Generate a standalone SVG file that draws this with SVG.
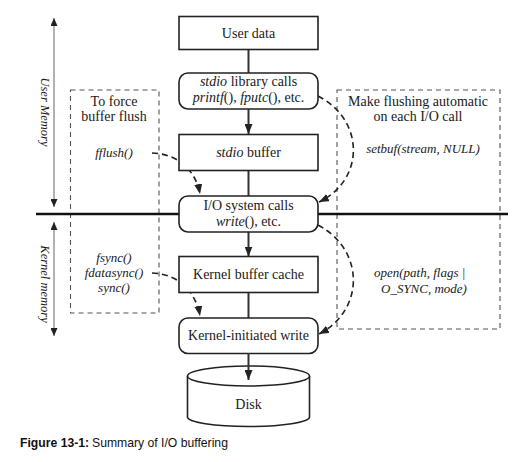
<svg xmlns="http://www.w3.org/2000/svg" width="518" height="462" viewBox="0 0 518 462">
<style>
.box{fill:#fff;stroke:#222;stroke-width:1.6}
.t{font-family:"Liberation Serif",serif;font-size:14px;fill:#1a1a1a;text-anchor:middle}
.i{font-family:"Liberation Serif",serif;font-size:13px;font-style:italic;fill:#1a1a1a}
.dbox{fill:none;stroke:#555;stroke-width:1.1;stroke-dasharray:5 4}
.flow{stroke:#333;stroke-width:2;fill:none}
.dash{stroke:#222;stroke-width:1.6;fill:none;stroke-dasharray:6 4}
.mem{stroke:#999;stroke-width:1.5;fill:none}
.cap{font-family:"Liberation Sans",sans-serif;font-size:12.2px;fill:#111}
</style>
<defs>
<marker id="ah" markerUnits="userSpaceOnUse" markerWidth="10" markerHeight="8" refX="10" refY="4" orient="auto"><path d="M0,0 L10,4 L0,8 z" fill="#222"/></marker>
<marker id="mh" markerUnits="userSpaceOnUse" markerWidth="8" markerHeight="7" refX="8" refY="3.5" orient="auto-start-reverse"><path d="M0,0 L8,3.5 L0,7 z" fill="#222"/></marker>
</defs>
<rect width="518" height="462" fill="#fff"/>

<g id="memory-labels">
<line class="mem" x1="54" y1="18" x2="54" y2="207" marker-start="url(#mh)" marker-end="url(#mh)"/>
<text class="i" transform="translate(41,112) rotate(90)" text-anchor="middle" style="font-size:12.5px">User Memory</text>
<line class="mem" x1="54" y1="222" x2="54" y2="336" marker-start="url(#mh)" marker-end="url(#mh)"/>
<text class="i" transform="translate(41,284) rotate(90)" text-anchor="middle" style="font-size:12.5px">Kernel memory</text>
</g>

<g id="left-panel">
<rect class="dbox" x="70.5" y="90" width="88.5" height="223"/>
<text class="t" x="114" y="106">To force</text>
<text class="t" x="114" y="121">buffer flush</text>
<text class="i" x="114" y="157" text-anchor="middle">fflush()</text>
<text class="i" x="114" y="262" text-anchor="middle">fsync()</text>
<text class="i" x="114" y="277" text-anchor="middle">fdatasync()</text>
<text class="i" x="114" y="292" text-anchor="middle">sync()</text>
</g>

<g id="right-panel">
<rect class="dbox" x="337" y="90" width="163" height="239"/>
<text class="t" x="418" y="106">Make flushing automatic</text>
<text class="t" x="418" y="121">on each I/O call</text>
<text class="i" x="423" y="153" text-anchor="middle">setbuf(stream, NULL)</text>
<text class="i" x="374" y="277">open(path, flags |</text>
<text class="i" x="381" y="293">O_SYNC, mode)</text>
</g>

<g id="divider">
<line x1="36" y1="214" x2="508" y2="214" stroke="#111" stroke-width="2.6"/>
</g>

<g id="connectors">
<line class="flow" x1="248.5" y1="49" x2="248.5" y2="73"/>
<line class="flow" x1="248.5" y1="109" x2="248.5" y2="134" marker-end="url(#ah)"/>
<line class="flow" x1="248.5" y1="171" x2="248.5" y2="196"/>
<line class="flow" x1="248.5" y1="232" x2="248.5" y2="256.5" marker-end="url(#ah)"/>
<line class="flow" x1="248.5" y1="293" x2="248.5" y2="318"/>
<path class="dash" d="M152,153 C180,154 196,172 200,194" marker-end="url(#ah)"/>
<path class="dash" d="M152,273 C180,274 196,293 200,316" marker-end="url(#ah)"/>
<path class="dash" d="M318,96 C365,120 365,180 319,202" marker-end="url(#ah)"/>
<path class="dash" d="M318,225 C365,250 365,310 319,334" marker-end="url(#ah)"/>
</g>

<g id="user-data">
<rect class="box" x="179" y="16.5" width="139" height="33"/>
<text class="t" x="248.5" y="37.5">User data</text>
</g>
<g id="stdio-library-calls">
<rect class="box" x="179" y="73" width="139" height="36" rx="9"/>
<text class="t" x="248.5" y="86"><tspan font-style="italic">stdio</tspan> library calls</text>
<text class="t" x="248.5" y="102"><tspan font-style="italic">printf</tspan>(), <tspan font-style="italic">fputc</tspan>(), etc.</text>
</g>
<g id="stdio-buffer">
<rect class="box" x="179" y="134.5" width="139" height="36"/>
<text class="t" x="248.5" y="157"><tspan font-style="italic">stdio</tspan> buffer</text>
</g>
<g id="io-system-calls">
<rect class="box" x="179" y="196" width="139" height="36" rx="9"/>
<text class="t" x="248.5" y="209.5">I/O system calls</text>
<text class="t" x="248.5" y="226"><tspan font-style="italic">write</tspan>(), etc.</text>
</g>
<g id="kernel-buffer-cache">
<rect class="box" x="179" y="256.5" width="139" height="36"/>
<text class="t" x="248.5" y="278.5">Kernel buffer cache</text>
</g>
<g id="kernel-initiated-write">
<rect class="box" x="179" y="318" width="139" height="35.5" rx="9"/>
<text class="t" x="248.5" y="339.5">Kernel-initiated write</text>
</g>
<g id="disk">
<path d="M187.5,376 L187.5,417 A61,9.5 0 0 0 309.5,417 L309.5,376" fill="#fff" stroke="#222" stroke-width="1.6"/>
<ellipse cx="248.5" cy="376" rx="61" ry="10" fill="#fff" stroke="#222" stroke-width="1.6"/>
<text class="t" x="248.5" y="408.5">Disk</text>
</g>
<g id="disk-arrow">
<line class="flow" x1="248.5" y1="353" x2="248.5" y2="380" marker-end="url(#ah)"/>
</g>

<g id="caption">
<text class="cap" x="20" y="447" font-weight="bold">Figure 13-1:</text>
<text class="cap" x="92" y="447">Summary of I/O buffering</text>
</g>
</svg>
